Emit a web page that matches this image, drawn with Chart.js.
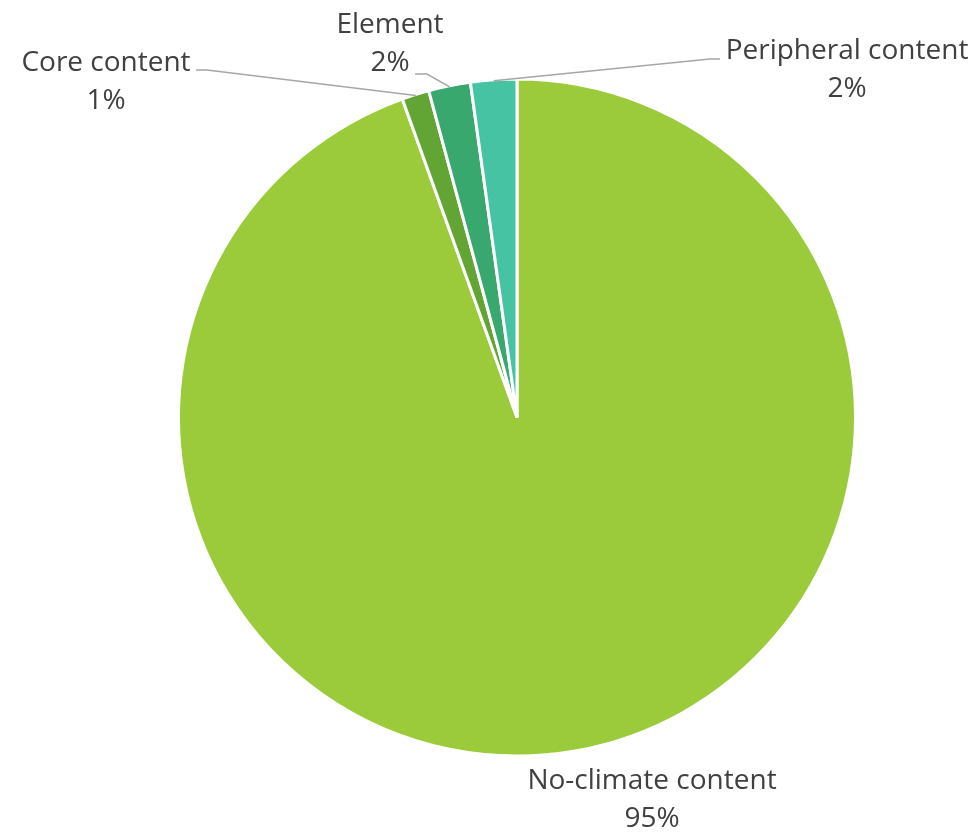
<!DOCTYPE html>
<html><head><meta charset="utf-8">
<script src="https://cdn.jsdelivr.net/npm/chart.js@4.4.0/dist/chart.umd.min.js"></script>
<style>html,body{margin:0;padding:0;background:#fff}#wrap{width:977px;height:835px;position:relative}</style>
</head><body><div id="wrap"><canvas id="c"></canvas></div>
<script>
const categories = ['No-climate content', 'Core content', 'Element', 'Peripheral content'];
const shares = [94.5, 1.3, 2.0, 2.2];
const percentLabels = ['95%', '1%', '2%', '2%'];
const sliceColors = ['#9BCB3A', '#62A534', '#38A86E', '#46C3A3'];

const labelLayout = [
  {x: 652, y: 789, elbow: null},
  {x: 106, y: 71, elbow: [[196, 70], [207, 70]]},
  {x: 390, y: 33, elbow: [[415, 74], [427, 74]]},
  {x: 847, y: 59, elbow: [[720, 59], [710, 59]]}
];

const labelPlugin = {
  id: 'calloutLabels',
  afterDatasetsDraw(chart) {
    const ctx = chart.ctx;
    const meta = chart.getDatasetMeta(0);
    ctx.save();
    meta.data.forEach((arc, i) => {
      const L = labelLayout[i];
      const p = arc.getProps(['x', 'y', 'startAngle', 'endAngle', 'outerRadius'], true);
      if (L.elbow) {
        const mid = (p.startAngle + p.endAngle) / 2;
        const ex = p.x + Math.cos(mid) * (p.outerRadius - 1);
        const ey = p.y + Math.sin(mid) * (p.outerRadius - 1);
        ctx.beginPath();
        ctx.strokeStyle = '#A6A6A6';
        ctx.lineWidth = 1.5;
        ctx.moveTo(L.elbow[0][0], L.elbow[0][1]);
        ctx.lineTo(L.elbow[1][0], L.elbow[1][1]);
        ctx.lineTo(ex, ey);
        ctx.stroke();
      }
      ctx.fillStyle = '#404040';
      ctx.font = '28px "Open Sans"';
      ctx.textAlign = 'center';
      ctx.textBaseline = 'alphabetic';
      ctx.fillText(categories[i], L.x, L.y);
      ctx.fillText(percentLabels[i], L.x, L.y + 38);
    });
    ctx.restore();
  }
};

new Chart(document.getElementById('c'), {
  type: 'pie',
  data: {
    labels: categories,
    datasets: [{
      data: shares,
      backgroundColor: sliceColors,
      borderColor: '#FFFFFF',
      borderWidth: 3
    }]
  },
  options: {
    responsive: true,
    maintainAspectRatio: false,
    animation: false,
    layout: {padding: {left: 177, right: 120, top: 77, bottom: 77}},
    plugins: {legend: {display: false}, tooltip: {enabled: false}, title: {display: false}}
  },
  plugins: [labelPlugin]
});
</script>
</body></html>
